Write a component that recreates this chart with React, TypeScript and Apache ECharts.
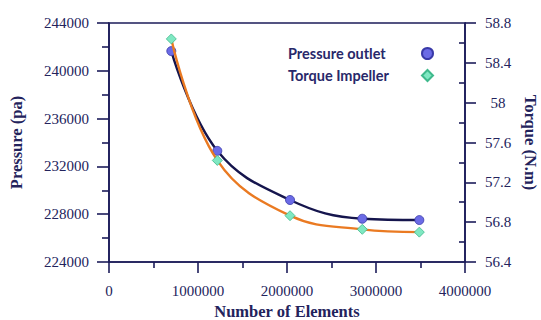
import React, { useEffect, useRef } from "react";
import * as echarts from "echarts";

const elements = [700000, 1217000, 2034000, 2846000, 3487000];
const pressure = [241650, 233300, 229190, 227620, 227510];
const torque = [58.64, 57.42, 56.865, 56.728, 56.70];
const torqueMinorTicks = [56.6, 57.0, 57.4, 57.8, 58.2, 58.6];

const NAVY = "#1c1c5a";
const SERIF = "'Liberation Serif', 'Times New Roman', serif";

export default function App() {
  const ref = useRef<HTMLDivElement>(null);
  useEffect(() => {
    if (!ref.current) return;
    const chart = echarts.init(ref.current, undefined, { renderer: "svg" });
    const axisLine = { show: true, lineStyle: { color: NAVY, width: 1.6 } };
    const labelStyle = { color: "#23235c", fontFamily: SERIF, fontSize: 15 };
    const nameStyle = {
      color: "#23235c", fontFamily: SERIF, fontSize: 16.5, fontWeight: "bold" as const,
    };
    chart.setOption({
      animation: false,
      backgroundColor: "#ffffff",
      grid: {
        left: 109, right: 76, top: 23, bottom: 58,
        outerBoundsMode: "none",
        containLabel: false,
        show: true, borderColor: NAVY, borderWidth: 1.6, backgroundColor: "transparent",
      },
      legend: {
        orient: "vertical",
        left: 288,
        top: 46,
        padding: 0,
        itemGap: 7,
        itemWidth: 11,
        itemHeight: 11,
        align: "right",
        formatter: "{a|{name}}",
        textStyle: {
          rich: {
            a: {
              width: 129,
              align: "left",
              fontFamily: "Lato, 'Open Sans', sans-serif",
              fontWeight: "bold",
              fontSize: 14.5,
              color: "#28286a",
            },
          },
        },
        data: [
          { name: "Pressure outlet", icon: "circle" },
          { name: "Torque Impeller", icon: "diamond" },
        ],
      },
      xAxis: {
        type: "value",
        min: 0,
        max: 4000000,
        interval: 1000000,
        name: "Number of Elements",
        nameLocation: "middle",
        nameGap: 36,
        nameTextStyle: nameStyle,
        axisLine,
        axisTick: { show: true, length: 11, lineStyle: { color: NAVY, width: 1.6 } },
        minorTick: { show: true, splitNumber: 2, length: 6, lineStyle: { color: NAVY, width: 1.6 } },
        splitLine: { show: false },
        axisLabel: { ...labelStyle, margin: 21, formatter: (v: number) => String(v) },
      },
      yAxis: [
        {
          type: "value",
          position: "left",
          min: 224000,
          max: 244000,
          interval: 4000,
          name: "Pressure (pa)",
          nameLocation: "middle",
          nameGap: 84,
          nameTextStyle: nameStyle,
          axisLine,
          axisTick: { show: true, length: 12, lineStyle: { color: NAVY, width: 1.6 } },
          minorTick: { show: true, splitNumber: 2, length: 7, lineStyle: { color: NAVY, width: 1.6 } },
          splitLine: { show: false },
          axisLabel: { ...labelStyle, margin: 20, formatter: (v: number) => String(v) },
        },
        {
          type: "value",
          position: "right",
          min: 56.4,
          max: 58.8,
          interval: 0.4,
          name: "Torque (N.m)",
          nameLocation: "middle",
          nameRotate: -90,
          nameGap: 57,
          nameTextStyle: nameStyle,
          axisLine,
          axisTick: { show: true, length: 11, lineStyle: { color: NAVY, width: 1.6 } },
          splitLine: { show: false },
          axisLabel: {
            ...labelStyle,
            margin: 33,
            align: "center",
            formatter: (v: number) => String(parseFloat(v.toFixed(1))),
          },
        },
        {
          type: "value",
          position: "right",
          min: 56.4,
          max: 58.8,
          axisLine: { show: false },
          axisLabel: { show: false },
          splitLine: { show: false },
          axisTick: {
            show: true,
            inside: true,
            length: 6,
            customValues: torqueMinorTicks,
            lineStyle: { color: NAVY, width: 1.6 },
          },
        },
      ],
      series: [
        {
          name: "Torque Impeller",
          type: "line",
          yAxisIndex: 1,
          data: elements.map((x, i) => [x, torque[i]]),
          smooth: 0.4,
          symbol: "diamond",
          symbolSize: 10,
          lineStyle: { color: "#ea7a22", width: 2.4 },
          itemStyle: { color: "#7fe8c2", borderColor: "#3fb98c", borderWidth: 0.8 },
          z: 3,
        },
        {
          name: "Pressure outlet",
          type: "line",
          yAxisIndex: 0,
          data: elements.map((x, i) => [x, pressure[i]]),
          smooth: 0.4,
          symbol: "circle",
          symbolSize: 9,
          lineStyle: { color: "#15154d", width: 2.4 },
          itemStyle: { color: "#6b6be6", borderColor: "#3a3aa8", borderWidth: 0.8 },
          z: 2,
        },
      ],
    });
    return () => chart.dispose();
  }, []);
  return (
    <div
      ref={ref}
      style={{ position: "fixed", left: 0, top: 0, width: 541, height: 320 }}
    />
  );
}
